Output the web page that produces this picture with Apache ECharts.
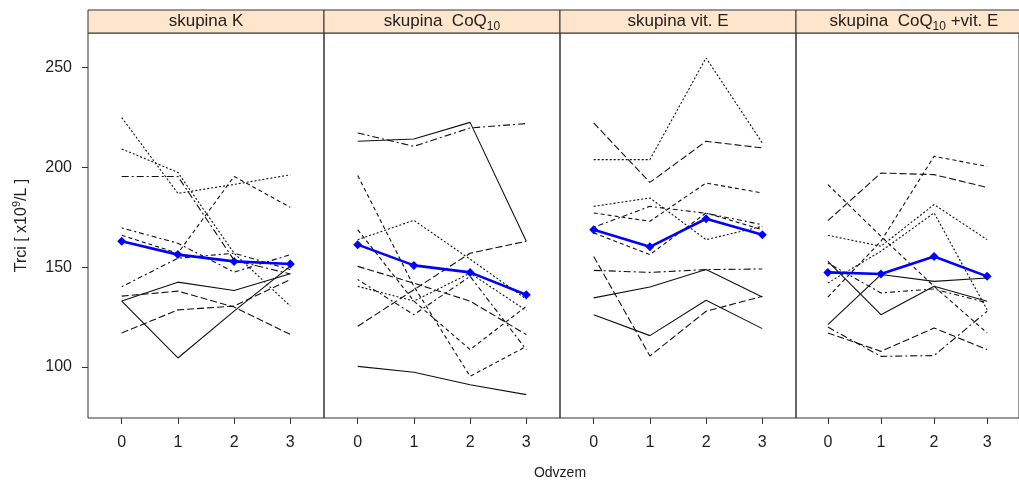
<!DOCTYPE html>
<html>
<head>
<meta charset="utf-8">
<script src="https://cdn.jsdelivr.net/npm/echarts@6/dist/echarts.min.js"></script>
<style>
  html, body { margin: 0; padding: 0; background: #fff; }
  #chart { width: 1019px; height: 481px; }
</style>
</head>
<body>
<div id="chart"></div>
<script>
// osa x: odvzem 0..3, osa y: Trci
const odvzem = [0, 1, 2, 3];
const yTicks = [100, 150, 200, 250];
const skupiny = [
  "skupina K",
  "skupina  CoQ{sub|10}",
  "skupina vit. E",
  "skupina  CoQ{sub|10} +vit. E",
];

// jednotlivi pacienti, po skupinach
const linesK = [
  [225, 187, 191.5, 196.3],
  [209.3, 197.5, 157, 130.5],
  [195.5, 195.5, 153.5, 146.6],
  [166, 157, 195.5, 180],
  [169.7, 162, 147.5, 156.3],
  [140.2, 154.5, 157, 148.8],
  [133, 142.5, 138.3, 146.7],
  [133, 104.5, 128, 150.5],
  [135.5, 138, 130, 116.3],
  [117, 128.6, 130.5, 143.8],
];
const meanK = [163, 156.3, 152.9, 151.6];

const linesCoQ = [
  [213.1, 214.3, 222.6, 163],
  [217.3, 210.6, 219.8, 222],
  [120.4, 138.7, 157, 163],
  [196, 140.4, 95.3, 110.3],
  [143.8, 126.2, 145.4, 108.7],
  [150.4, 142, 133, 116.2],
  [163.8, 173.5, 154, 134],
  [168.8, 133, 108.7, 130.4],
  [140.4, 133, 147, 128.3],
  [100.3, 97.3, 91.1, 86.1],
];
const meanCoQ = [161.3, 150.9, 147.4, 136.2];

const linesVitE = [
  [203.9, 203.9, 254.9, 212.3],
  [222.3, 192.5, 213.1, 209.8],
  [180.5, 184.7, 163.8, 170.5],
  [177.2, 173, 192.2, 187.2],
  [167.2, 156.3, 177.2, 168.8],
  [170, 180.5, 177, 171.3],
  [148.4, 147.4, 148.8, 149.1],
  [134.6, 140.1, 148.8, 135.1],
  [126.2, 115.7, 133.4, 119.2],
  [155.4, 105.5, 127.9, 135.4],
];
const meanVitE = [168.8, 160.2, 174.3, 166.3];

const linesCoQVitE = [
  [191.4, 165.5, 140.4, 117],
  [173.3, 197.2, 196.4, 190],
  [135, 163, 205.6, 200.5],
  [166, 160.5, 181.4, 163.8],
  [142.1, 158, 177.2, 128.7],
  [152.9, 126.2, 140.4, 132.9],
  [121.2, 146.3, 142.9, 144.6],
  [117, 107.8, 119.5, 108.7],
  [120, 105.3, 105.7, 127.9],
  [152.1, 137.1, 139.1, 132.1],
];
const meanCoQVitE = [147.4, 146.6, 155.4, 145.4];

// typy car (lty jako v lattice)
const SOLID = "solid";
const DASHED = [4, 3];
const DOTTED = [2, 2];
const DOTDASH = [2, 3, 5, 3];
const LONGDASH = [7, 3];
const TWODASH = [7, 3, 2, 3];

const dashK = [DOTTED, DOTTED, TWODASH, DASHED, DOTDASH, DOTDASH, SOLID, SOLID, LONGDASH, LONGDASH];
const dashCoQ = [SOLID, TWODASH, LONGDASH, DASHED, DOTDASH, LONGDASH, DOTTED, DASHED, DOTTED, SOLID];
const dashVitE = [DOTTED, LONGDASH, DOTTED, DASHED, DASHED, DOTDASH, TWODASH, SOLID, SOLID, LONGDASH];
const dashCoQVitE = [DASHED, LONGDASH, DASHED, DOTTED, DOTTED, SOLID, SOLID, LONGDASH, TWODASH, DOTDASH];

const panels = [
  { lines: linesK, mean: meanK, dash: dashK },
  { lines: linesCoQ, mean: meanCoQ, dash: dashCoQ },
  { lines: linesVitE, mean: meanVitE, dash: dashVitE },
  { lines: linesCoQVitE, mean: meanCoQVitE, dash: dashCoQVitE },
];

const FONT = '"Liberation Sans", Arial, sans-serif';
const PANEL_LEFT = 88;
const PANEL_W = 236;
const PANEL_TOP = 33;
const PANEL_H = 385;

const chart = echarts.init(document.getElementById("chart"), null, { renderer: "canvas" });

const toPoints = (vals) => vals.map((v, j) => [odvzem[j], v]);

const series = [];
panels.forEach((p, idx) => {
  p.lines.forEach((vals, i) => {
    series.push({
      type: "line",
      xAxisIndex: idx,
      yAxisIndex: idx,
      data: toPoints(vals),
      symbol: "none",
      silent: true,
      z: 2,
      lineStyle: { color: "#111", width: 1.1, type: p.dash[i] },
    });
  });
  // prumer skupiny
  series.push({
    type: "line",
    xAxisIndex: idx,
    yAxisIndex: idx,
    data: toPoints(p.mean),
    symbol: "diamond",
    symbolSize: 9,
    z: 5,
    lineStyle: { color: "#0000ff", width: 2.6 },
    itemStyle: { color: "#0000ff" },
  });
});

const graphic = [];
skupiny.forEach((label, i) => {
  const x = PANEL_LEFT + i * PANEL_W;
  graphic.push({
    type: "rect",
    shape: { x: x, y: 10, width: PANEL_W, height: PANEL_TOP - 10 },
    style: { fill: "#ffe5cc", stroke: "#333", lineWidth: 1 },
    z: 10,
  });
  graphic.push({
    type: "text",
    x: x + PANEL_W / 2,
    y: 21.5,
    z: 11,
    style: {
      text: label,
      align: "center",
      verticalAlign: "middle",
      fontSize: 17,
      fontFamily: FONT,
      fill: "#222",
      rich: {
        sub: { fontSize: 12, fontFamily: FONT, fill: "#222", padding: [10, 0, 0, 0] },
      },
    },
  });
});
graphic.push({
  type: "text",
  x: PANEL_LEFT + (PANEL_W * 4) / 2,
  y: 473,
  style: {
    text: "Odvzem",
    align: "center",
    verticalAlign: "middle",
    fontSize: 14,
    fontFamily: FONT,
    fill: "#222",
  },
});

chart.setOption({
  animation: false,
  backgroundColor: "#fff",
  textStyle: { fontFamily: FONT },
  grid: panels.map((_, i) => ({
    left: PANEL_LEFT + i * PANEL_W,
    top: PANEL_TOP,
    width: PANEL_W,
    height: PANEL_H,
    show: true,
    borderColor: "#333",
    borderWidth: 1,
    backgroundColor: "transparent",
  })),
  xAxis: panels.map((_, i) => ({
    type: "value",
    gridIndex: i,
    min: -0.6,
    max: 3.6,
    axisLine: { show: false, onZero: false },
    splitLine: { show: false },
    axisTick: {
      customValues: odvzem,
      length: 6,
      lineStyle: { color: "#333" },
    },
    axisLabel: {
      customValues: odvzem,
      fontSize: 16,
      color: "#222",
      margin: 17,
      fontFamily: FONT,
    },
  })),
  yAxis: panels.map((_, i) => ({
    type: "value",
    gridIndex: i,
    min: 74.4,
    max: 267.4,
    axisLine: { show: false, onZero: false },
    splitLine: { show: false },
    axisTick: {
      show: i === 0,
      customValues: yTicks,
      length: 6,
      lineStyle: { color: "#333" },
    },
    axisLabel: {
      show: i === 0,
      customValues: yTicks,
      fontSize: 16,
      color: "#222",
      margin: 16,
      fontFamily: FONT,
    },
    name: i === 0 ? "Trci [ x10{sup|9}/L ]" : "",
    nameLocation: "middle",
    nameRotate: 90,
    nameGap: 56,
    nameTextStyle: {
      fontSize: 16,
      color: "#222",
      fontFamily: FONT,
      rich: {
        sup: { fontSize: 11, color: "#222", fontFamily: FONT, padding: [0, 0, 10, 0] },
      },
    },
  })),
  graphic: graphic,
  series: series,
});
</script>
</body>
</html>
